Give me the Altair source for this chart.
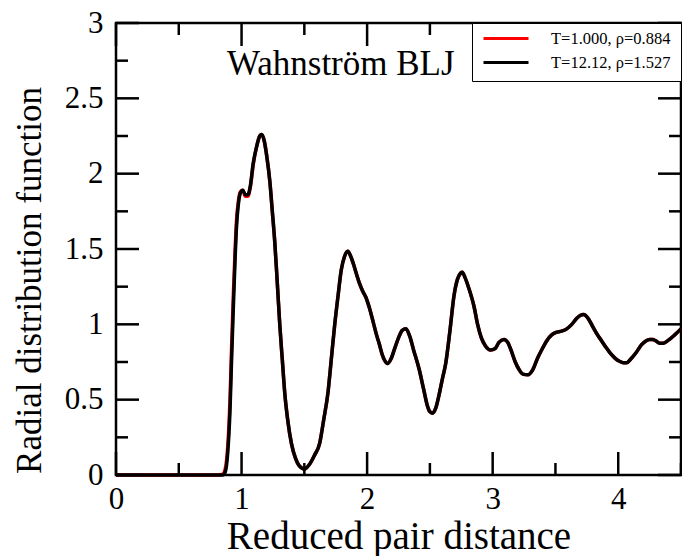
import altair as alt
import pandas as pd

# ---------------- data ----------------
r_values = [0.0, 0.80, 0.85, 0.87, 0.89, 0.908, 0.92, 0.934, 0.947, 0.96, 0.975, 0.99,
            1.01, 1.03, 1.05, 1.07, 1.093, 1.12, 1.145, 1.16, 1.18, 1.20, 1.225, 1.245,
            1.265, 1.285, 1.305, 1.325, 1.344, 1.37, 1.397, 1.43, 1.46, 1.50, 1.54, 1.58,
            1.622, 1.655, 1.688, 1.715, 1.741, 1.77, 1.794, 1.82, 1.846, 1.87, 1.895, 1.913,
            1.94, 1.965, 1.99, 2.018, 2.05, 2.075, 2.097, 2.12, 2.14, 2.163, 2.19, 2.22,
            2.25, 2.28, 2.309, 2.34, 2.37, 2.415, 2.45, 2.48, 2.50, 2.52, 2.545, 2.57,
            2.60, 2.626, 2.66, 2.692, 2.72, 2.745, 2.758, 2.78, 2.81, 2.851, 2.88, 2.91,
            2.944, 2.983, 3.02, 3.05, 3.09, 3.12, 3.15, 3.18, 3.21, 3.24, 3.28, 3.32,
            3.36, 3.39, 3.43, 3.47, 3.50, 3.55, 3.59, 3.63, 3.67, 3.70, 3.723, 3.76,
            3.80, 3.835, 3.868, 3.90, 3.935, 3.974, 4.01, 4.04, 4.067, 4.10, 4.14, 4.186,
            4.22, 4.25, 4.275, 4.30, 4.33, 4.36, 4.40, 4.45, 4.50]

g_black = [0.0, 0.0, 0.0, 0.02, 0.15, 0.43, 0.75, 1.10, 1.40, 1.65, 1.80, 1.87,
           1.89, 1.86, 1.86, 1.92, 2.07, 2.18, 2.25, 2.26, 2.22, 2.12, 1.95, 1.75,
           1.54, 1.27, 0.99, 0.76, 0.545, 0.35, 0.21, 0.11, 0.06, 0.04, 0.07, 0.13,
           0.21, 0.37, 0.545, 0.77, 0.99, 1.20, 1.36, 1.45, 1.485, 1.45, 1.39, 1.34,
           1.27, 1.22, 1.18, 1.11, 1.01, 0.93, 0.87, 0.80, 0.76, 0.74, 0.77, 0.84,
           0.91, 0.96, 0.97, 0.92, 0.83, 0.70, 0.57, 0.46, 0.42, 0.41, 0.44, 0.52,
           0.64, 0.74, 0.96, 1.19, 1.30, 1.34, 1.345, 1.31, 1.24, 1.12, 1.00, 0.91,
           0.855, 0.83, 0.84, 0.88, 0.90, 0.88, 0.82, 0.75, 0.70, 0.67, 0.665, 0.70,
           0.78, 0.83, 0.89, 0.93, 0.945, 0.955, 0.97, 1.00, 1.04, 1.06, 1.065, 1.04,
           0.98, 0.93, 0.89, 0.85, 0.81, 0.776, 0.755, 0.745, 0.745, 0.77, 0.81, 0.865,
           0.89, 0.90, 0.90, 0.89, 0.875, 0.875, 0.895, 0.93, 0.97]

g_red = [0.0, 0.0, 0.005, 0.04, 0.19, 0.50, 0.83, 1.18, 1.46, 1.69, 1.82, 1.88,
         1.89, 1.85, 1.85, 1.91, 2.06, 2.18, 2.25, 2.26, 2.22, 2.12, 1.95, 1.75,
         1.54, 1.27, 0.99, 0.76, 0.545, 0.35, 0.21, 0.11, 0.06, 0.04, 0.07, 0.13,
         0.21, 0.37, 0.545, 0.77, 0.99, 1.20, 1.36, 1.45, 1.485, 1.45, 1.39, 1.34,
         1.27, 1.22, 1.18, 1.11, 1.01, 0.93, 0.87, 0.80, 0.76, 0.74, 0.77, 0.84,
         0.91, 0.96, 0.97, 0.92, 0.83, 0.70, 0.57, 0.46, 0.42, 0.41, 0.44, 0.52,
         0.64, 0.74, 0.96, 1.19, 1.30, 1.34, 1.345, 1.31, 1.24, 1.12, 1.00, 0.91,
         0.855, 0.83, 0.84, 0.88, 0.90, 0.88, 0.82, 0.75, 0.70, 0.67, 0.665, 0.70,
         0.78, 0.83, 0.89, 0.93, 0.945, 0.955, 0.97, 1.00, 1.04, 1.06, 1.065, 1.04,
         0.98, 0.93, 0.89, 0.85, 0.81, 0.776, 0.755, 0.745, 0.745, 0.77, 0.81, 0.865,
         0.89, 0.90, 0.90, 0.89, 0.875, 0.875, 0.895, 0.93, 0.97]

series_names = ["T=1.000, ρ=0.884", "T=12.12, ρ=1.527"]
series_colors = ["#ff0000", "#000000"]

x_major = [0, 1, 2, 3, 4]
x_minor = [0.5, 1.5, 2.5, 3.5, 4.5]
y_major = [0, 0.5, 1, 1.5, 2, 2.5, 3]
y_minor = [0.25, 0.75, 1.25, 1.75, 2.25, 2.75]

x_title = "Reduced pair distance"
y_title = "Radial distribution function"
chart_title = "Wahnström BLJ"

# ---------------- build ----------------
FONT = "Liberation Serif"
W, H = 565, 452
X_DOM, Y_DOM = [0, 4.5], [0, 3]
MAJ, MIN = 23, 12          # tick lengths in pixels
TW = 2.5

red_df = pd.DataFrame({"r": r_values, "g": g_red, "series": series_names[0]})
black_df = pd.DataFrame({"r": r_values, "g": g_black, "series": series_names[1]})

xs = alt.Scale(domain=X_DOM, nice=False, zero=False)
ys = alt.Scale(domain=Y_DOM, nice=False, zero=False)

color_enc = alt.Color(
    "series:N",
    scale=alt.Scale(domain=series_names, range=series_colors),
    legend=alt.Legend(
        title=None, orient="top-right", offset=0,
        strokeColor="black", fillColor="white", padding=10,
        symbolType="stroke", symbolSize=2025, symbolStrokeWidth=3,
        labelFont=FONT, labelFontSize=16.5, labelColor="black", labelOffset=21,
        clipHeight=11, rowPadding=7, labelLimit=300,
    ),
)

label_x_axis = alt.Axis(values=x_major, ticks=False, domain=False, grid=False,
                        format="~g", labelFont=FONT, labelFontSize=31, labelFlush=False,
                        labelColor="black", labelPadding=9, labelBaseline="top",
                        titleFont=FONT, titleFontSize=39, titleFontWeight="normal",
                        titleColor="black", titleBaseline="alphabetic", titleY=73,
                        titleAlign="center")
label_y_axis = alt.Axis(values=y_major, ticks=False, domain=False, grid=False,
                        format="~g", labelFont=FONT, labelFontSize=31, labelFlush=False,
                        labelColor="black", labelPadding=13,
                        titleFont=FONT, titleFontSize=35, titleFontWeight="normal",
                        titleColor="black", titleBaseline="alphabetic", titleAngle=270,
                        titleX=-76, titleY=257, titleAlign="center")


def X(field):
    return alt.X(field, scale=xs, axis=label_x_axis, title=x_title)


def Y(field):
    return alt.Y(field, scale=ys, axis=label_y_axis, title=y_title)


red_line = alt.Chart(red_df).mark_line(strokeWidth=3.5, interpolate="monotone").encode(
    x=X("r:Q"), y=Y("g:Q"), color=color_enc,
)
black_line = alt.Chart(black_df).mark_line(strokeWidth=3.5, interpolate="monotone").encode(
    x=X("r:Q"), y=Y("g:Q"), color=color_enc,
)

# inward tick marks on all four sides, drawn as short line segments through the scales
y_per_px = (Y_DOM[1] - Y_DOM[0]) / H
x_per_px = (X_DOM[1] - X_DOM[0]) / W

tick_rows_x = []   # vertical tick segments (bottom + top edges)
tick_rows_y = []   # horizontal tick segments (left + right edges)
tid = 0
for values, length in ((x_major, MAJ), (x_minor, MIN)):
    d = length * y_per_px
    for v in values:
        for a, b in ((Y_DOM[0], Y_DOM[0] + d), (Y_DOM[1] - d, Y_DOM[1])):
            tick_rows_x.append({"id": tid, "v": v, "p": a})
            tick_rows_x.append({"id": tid, "v": v, "p": b})
            tid += 1
for values, length in ((y_major, MAJ), (y_minor, MIN)):
    d = length * x_per_px
    for v in values:
        for a, b in ((X_DOM[0], X_DOM[0] + d), (X_DOM[1] - d, X_DOM[1])):
            tick_rows_y.append({"id": tid, "v": v, "p": a})
            tick_rows_y.append({"id": tid, "v": v, "p": b})
            tid += 1

x_tick_layer = alt.Chart(pd.DataFrame(tick_rows_x)).mark_line(
    color="black", strokeWidth=TW, strokeCap="butt"
).encode(x=X("v:Q"), y=Y("p:Q"), detail="id:N")

y_tick_layer = alt.Chart(pd.DataFrame(tick_rows_y)).mark_line(
    color="black", strokeWidth=TW, strokeCap="butt"
).encode(x=X("p:Q"), y=Y("v:Q"), detail="id:N", order="p:Q")

title_layer = alt.Chart(pd.DataFrame({"t": [chart_title]})).mark_text(
    align="left", baseline="alphabetic", font=FONT, fontSize=35, color="black"
).encode(text="t:N", x=alt.value(111), y=alt.value(52))

chart = alt.layer(red_line, black_line, x_tick_layer, y_tick_layer, title_layer).properties(
    width=W, height=H,
    padding={"left": 116, "top": 23, "right": 1, "bottom": 81},
    autosize=alt.AutoSizeParams(type="none"),
    background="white",
).configure_view(stroke="black", strokeWidth=TW)

chart.save("out.html", embed_options={"renderer": "svg", "actions": False})
